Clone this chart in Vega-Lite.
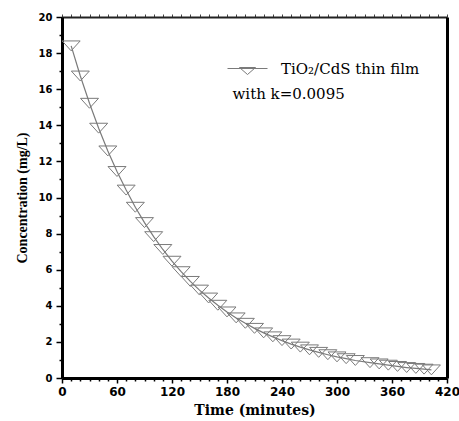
{
  "$schema": "https://vega.github.io/schema/vega-lite/v6.json",
  "width": 385,
  "height": 361,
  "autosize": "none",
  "padding": {"left": 62, "top": 17, "right": 12, "bottom": 43},
  "background": "white",
  "config": {
    "view": {"stroke": null},
    "axis": {"grid": false, "labelColor": "black", "titleColor": "black", "tickColor": "black", "domainColor": "black"},
    "legend": {"padding": 0}
  },
  "data": {
    "values": [
      {"t": 10, "c": 18.40, "series": "TiO₂/CdS thin film"},
      {"t": 20, "c": 16.73, "series": "TiO₂/CdS thin film"},
      {"t": 30, "c": 15.22, "series": "TiO₂/CdS thin film"},
      {"t": 40, "c": 13.84, "series": "TiO₂/CdS thin film"},
      {"t": 50, "c": 12.58, "series": "TiO₂/CdS thin film"},
      {"t": 60, "c": 11.44, "series": "TiO₂/CdS thin film"},
      {"t": 70, "c": 10.41, "series": "TiO₂/CdS thin film"},
      {"t": 80, "c": 9.46, "series": "TiO₂/CdS thin film"},
      {"t": 90, "c": 8.61, "series": "TiO₂/CdS thin film"},
      {"t": 100, "c": 7.83, "series": "TiO₂/CdS thin film"},
      {"t": 110, "c": 7.12, "series": "TiO₂/CdS thin film"},
      {"t": 120, "c": 6.47, "series": "TiO₂/CdS thin film"},
      {"t": 130, "c": 5.89, "series": "TiO₂/CdS thin film"},
      {"t": 140, "c": 5.35, "series": "TiO₂/CdS thin film"},
      {"t": 150, "c": 4.87, "series": "TiO₂/CdS thin film"},
      {"t": 160, "c": 4.43, "series": "TiO₂/CdS thin film"},
      {"t": 170, "c": 4.03, "series": "TiO₂/CdS thin film"},
      {"t": 180, "c": 3.66, "series": "TiO₂/CdS thin film"},
      {"t": 190, "c": 3.33, "series": "TiO₂/CdS thin film"},
      {"t": 200, "c": 3.03, "series": "TiO₂/CdS thin film"},
      {"t": 210, "c": 2.75, "series": "TiO₂/CdS thin film"},
      {"t": 220, "c": 2.50, "series": "TiO₂/CdS thin film"},
      {"t": 230, "c": 2.28, "series": "TiO₂/CdS thin film"},
      {"t": 240, "c": 2.07, "series": "TiO₂/CdS thin film"},
      {"t": 250, "c": 1.88, "series": "TiO₂/CdS thin film"},
      {"t": 260, "c": 1.71, "series": "TiO₂/CdS thin film"},
      {"t": 270, "c": 1.56, "series": "TiO₂/CdS thin film"},
      {"t": 280, "c": 1.42, "series": "TiO₂/CdS thin film"},
      {"t": 290, "c": 1.29, "series": "TiO₂/CdS thin film"},
      {"t": 300, "c": 1.17, "series": "TiO₂/CdS thin film"},
      {"t": 310, "c": 1.07, "series": "TiO₂/CdS thin film"},
      {"t": 320, "c": 0.97, "series": "TiO₂/CdS thin film"},
      {"t": 336, "c": 0.85, "series": "TiO₂/CdS thin film"},
      {"t": 346, "c": 0.78, "series": "TiO₂/CdS thin film"},
      {"t": 356, "c": 0.71, "series": "TiO₂/CdS thin film"},
      {"t": 366, "c": 0.64, "series": "TiO₂/CdS thin film"},
      {"t": 376, "c": 0.58, "series": "TiO₂/CdS thin film"},
      {"t": 386, "c": 0.53, "series": "TiO₂/CdS thin film"},
      {"t": 395, "c": 0.49, "series": "TiO₂/CdS thin film"},
      {"t": 403, "c": 0.45, "series": "TiO₂/CdS thin film"}
    ]
  },
  "layer": [
    {
      "mark": {"type": "line", "color": "#7a7a7a", "strokeWidth": 1.2},
      "encoding": {
        "x": {"field": "t", "type": "quantitative", "scale": {"domain": [0, 420], "nice": false},
          "axis": {"orient": "bottom", "values": [0, 60, 120, 180, 240, 300, 360, 420], "title": "Time (minutes)",
            "titleFont": "DejaVu Serif", "titleFontWeight": "bold", "titleFontSize": 14, "titlePadding": 6,
            "labelFont": "DejaVu Sans", "labelFontWeight": "bold", "labelFontSize": 12, "labelPadding": 3,
            "tickSize": 5, "tickWidth": 1.5, "domainWidth": 3, "labelFlush": false}},
        "y": {"field": "c", "type": "quantitative", "scale": {"domain": [0, 20], "nice": false},
          "axis": {"orient": "left", "values": [0, 2, 4, 6, 8, 10, 12, 14, 16, 18, 20], "title": "Concentration (mg/L)",
            "titleFont": "Liberation Serif", "titleFontWeight": "bold", "titleFontSize": 14, "titlePadding": 9,
            "labelFont": "DejaVu Sans", "labelFontWeight": "bold", "labelFontSize": 10, "labelPadding": 4,
            "tickSize": 6, "tickWidth": 1.5, "domainWidth": 3}},
        "color": {"field": "series", "type": "nominal", "scale": {"range": ["#7a7a7a"]},
          "legend": {"orient": "none", "legendX": 165, "legendY": 31, "title": null,
            "symbolType": "M-1,0H1M-0.4,-0.05H0.4L0,0.3Z", "symbolSize": 1600,
            "symbolStrokeColor": "#7a7a7a", "symbolFillColor": "transparent", "symbolStrokeWidth": 1,
            "labelFont": "DejaVu Serif", "labelFontSize": 15, "labelColor": "black", "labelOffset": 13, "labelLimit": 300}}
      }
    },
    {
      "mark": {"type": "point", "shape": "M-1,-0.55L1,-0.55L0,0.55Z", "size": 324, "filled": false, "strokeWidth": 1, "opacity": 1},
      "encoding": {
        "x": {"field": "t", "type": "quantitative", "scale": {"domain": [0, 420], "nice": false},
          "axis": {"orient": "bottom", "values": [10, 20, 30, 40, 50, 70, 80, 90, 100, 110, 130, 140, 150, 160, 170, 190, 200, 210, 220, 230, 250, 260, 270, 280, 290, 310, 320, 330, 340, 350, 370, 380, 390, 400, 410],
            "labels": false, "domain": false, "title": null, "tickSize": 3, "tickWidth": 1.5}},
        "y": {"field": "c", "type": "quantitative", "scale": {"domain": [0, 20], "nice": false},
          "axis": {"orient": "left", "values": [1, 3, 5, 7, 9, 11, 13, 15, 17, 19],
            "labels": false, "domain": false, "title": null, "tickSize": 3, "tickWidth": 1.5}},
        "color": {"field": "series", "type": "nominal", "legend": null}
      }
    },
    {
      "data": {"values": [{"note": "with k=0.0095"}]},
      "mark": {"type": "text", "align": "left", "baseline": "middle", "font": "DejaVu Serif", "fontSize": 15, "color": "black"},
      "encoding": {
        "text": {"field": "note"},
        "x": {"datum": 186, "type": "quantitative", "scale": {"domain": [0, 420], "nice": false},
          "axis": {"orient": "top", "values": [0, 10, 20, 30, 40, 50, 60, 70, 80, 90, 100, 110, 120, 130, 140, 150, 160, 170, 180, 190, 200, 210, 220, 230, 240, 250, 260, 270, 280, 290, 300, 310, 320, 330, 340, 350, 360, 370, 380, 390, 400, 410, 420],
            "labels": false, "title": null, "tickSize": 3, "tickWidth": 1, "domainWidth": 2, "domainColor": "#222", "tickColor": "#444"}},
        "y": {"datum": 15.75, "type": "quantitative", "scale": {"domain": [0, 20], "nice": false},
          "axis": {"orient": "right", "ticks": false, "labels": false, "title": null, "domainWidth": 3}}
      }
    }
  ],
  "resolve": {"scale": {"x": "independent", "y": "independent"}}
}
